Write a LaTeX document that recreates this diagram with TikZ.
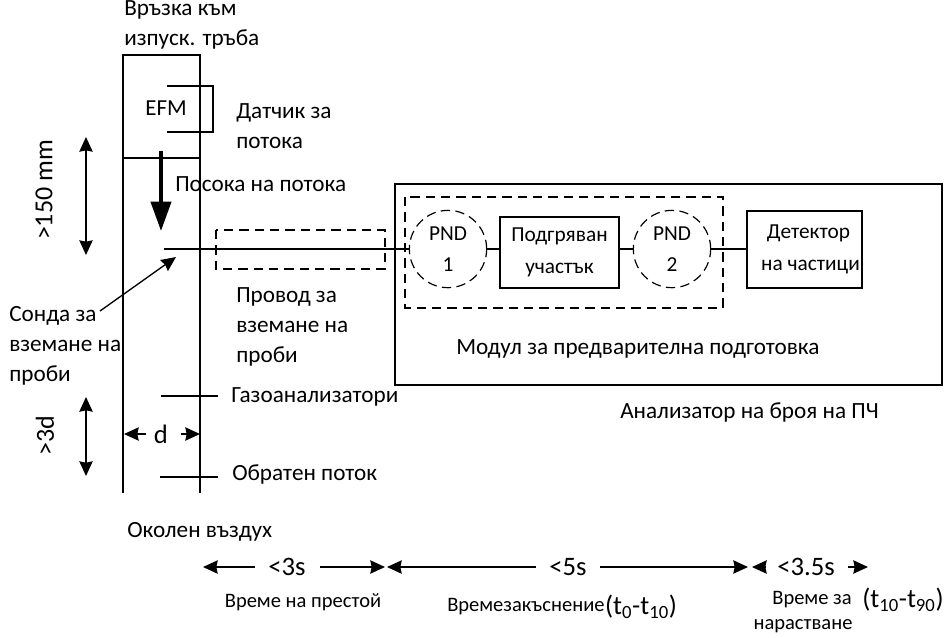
\documentclass[tikz,border=0pt]{standalone}
\usepackage{fontspec}
\setmainfont{Carlito}
\usetikzlibrary{arrows.meta}
\tikzset{
    lbl/.style={inner sep=0pt, anchor=west, align=left, font=\fontsize{17.4}{22.5}\selectfont},
    ctr/.style={inner sep=0pt, align=center, font=\fontsize{17.2}{22.5}\selectfont},
    rot/.style={inner sep=0pt, rotate=90, font=\fontsize{19.5}{22}\selectfont},
    small/.style={inner sep=0pt, align=center, font=\fontsize{15.4}{19.5}\selectfont},
    big/.style={inner sep=0pt, font=\fontsize{20}{22}\selectfont},
    pnd/.style={circle, draw, line width=.9pt, minimum size=58pt, inner sep=0pt, align=center, font=\fontsize{16}{23}\selectfont, dash pattern=on 7pt off 4pt},
    block/.style={draw, line width=1.2pt, inner sep=0pt, align=center, font=\fontsize{16}{23.5}\selectfont},
    wire/.style={line width=1pt},
    dim/.style={line width=1pt, >={Stealth[length=11pt,width=10pt,inset=1pt]}},
    dimsmall/.style={line width=1.1pt, >={Stealth[length=11pt,width=10pt,inset=1pt]}},
    dbox/.style={line width=1.2pt, dash pattern=on 7pt off 4.5pt},
    dthin/.style={line width=.9pt, dash pattern=on 7pt off 4.5pt}
}
\begin{document}
\begin{tikzpicture}[x=.75pt, y=-.75pt]
\useasboundingbox (0,0) rectangle (944,637);
% exhaust pipe
\coordinate (pipeA) at (123,55);
\coordinate (pipeB) at (200,55);
\coordinate (pipeC) at (123,493);
\coordinate (pipeD) at (200,493);
\draw[wire](pipeC)--(pipeA)--(pipeB)--(pipeD);
\draw[line width=1.5pt](123,158)--(200,158);
\draw[wire](167,86)--(213,86)--(213,132)--(167,132);
\node (efm) at (166,108)[ctr]{EFM};
\node (top) at (124,25)[lbl]{Връзка към\\изпуск. тръба};
\node (sensor) at (236,126)[lbl]{Датчик за\\потока};
\node (flow) at (175,184)[lbl]{Посока на потока};
\draw[-{Stealth[length=22pt,width=15pt,inset=0pt]}, line width=3pt](161,151)--(161,231);
% analyser
\draw[line width=1.5pt](395,184) rectangle (942,385);
\draw[dbox](405,197) rectangle (723,308);
\draw[dthin](216,230) rectangle (385,269);
\node (pndone) at (448,249)[pnd]{PND\\1};
\node (heat) at (559.5,252.5)[block, minimum width=89pt, minimum height=53pt]{Подгряван\\участък};
\node (pndtwo) at (672,249)[pnd]{PND\\2};
\node (det) at (804.5,249.5)[block, minimum width=86pt, minimum height=58pt]{\hspace*{6pt}Детектор\\\hspace*{9pt}на частици};
\coordinate (probeA) at (164,249);
\coordinate (probeB) at (191,249);
\draw[line width=1.5pt](probeA)--(probeB);
\draw[wire](probeB)--(pndone.west);
\draw[wire](pndone.east)--(pndone.east -| heat.west);
\draw[wire](pndtwo.west -| heat.east)--(pndtwo.west);
\draw[wire](pndtwo.east)--(pndtwo.east -| det.west);
\node (mod) at (456,349)[lbl]{Модул за предварителна подготовка};
\node (ana) at (620,412)[lbl]{Анализатор на броя на ПЧ};
% probe and lines
\node (line) at (236,326.5)[lbl]{Провод за\\вземане на\\проби};
\node (probe) at (9,345.5)[lbl]{Сонда за\\вземане на\\проби};
\coordinate (probeTail) at (100,311);
\coordinate (probeTip) at (176,257);
\draw[dim,->](probeTail)--(probeTip);
\coordinate (gasA) at (161,396);
\coordinate (gasB) at (218,396);
\draw[line width=1.3pt](gasA)--(gasB);
\node (gas) at (231,397)[lbl]{Газоанализатори};
\coordinate (backA) at (160,477);
\coordinate (backB) at (218,477);
\draw[wire](backA)--(backB);
\node (back) at (232,474)[lbl]{Обратен поток};
\node (air) at (127,532)[lbl]{Околен въздух};
% dimensions
\coordinate (upA) at (86,137);
\coordinate (upB) at (86,255);
\draw[dim,<->](upA)--(upB);
\node (mm) at (44,190)[rot]{>150 mm};
\coordinate (lowA) at (86,397);
\coordinate (lowB) at (86,476);
\draw[dim,<->](lowA)--(lowB);
\node (thd) at (45,436)[rot]{>3d};
\node (dd) at (161,434)[big]{d};
\coordinate (dL) at (124,434);
\coordinate (dR) at (200,434);
\draw[dimsmall,->](146,434)--(dL);
\draw[dimsmall,->](181,434)--(dR);
% times
\node (tone) at (287,567)[big]{<3s};
\node (ttwo) at (568,567)[big]{<5s};
\node (tthree) at (806,567)[big]{<3.5s};
\coordinate (ta) at (203,567);
\coordinate (tb) at (385,567);
\coordinate (tc) at (387,567);
\coordinate (td) at (748,567);
\coordinate (te) at (752,567);
\coordinate (tf) at (868,567);
\draw[dimsmall,->](255,567)--(ta);
\draw[dimsmall,->](320,567)--(tb);
\draw[dimsmall,->](536,567)--(tc);
\draw[dimsmall,->](600,567)--(td);
\draw[dimsmall,->](765,567)--(te);
\draw[dimsmall,->](848,567)--(tf);
\node (wait) at (303,602)[small]{Време на престой};
\node (delay) at (447,607)[small, anchor=west]{Времезакъснение};
\node (delayt) at (delay.east)[big, anchor=west]{(t\textsubscript{0}-t\textsubscript{10})};
\node (rise) at (812,600)[small]{Време за};
\node (risex) at (803,626)[small]{нарастване};
\node (riset) at (862,600)[big, anchor=west]{(t\textsubscript{10}-t\textsubscript{90})};
\end{tikzpicture}
\end{document}
